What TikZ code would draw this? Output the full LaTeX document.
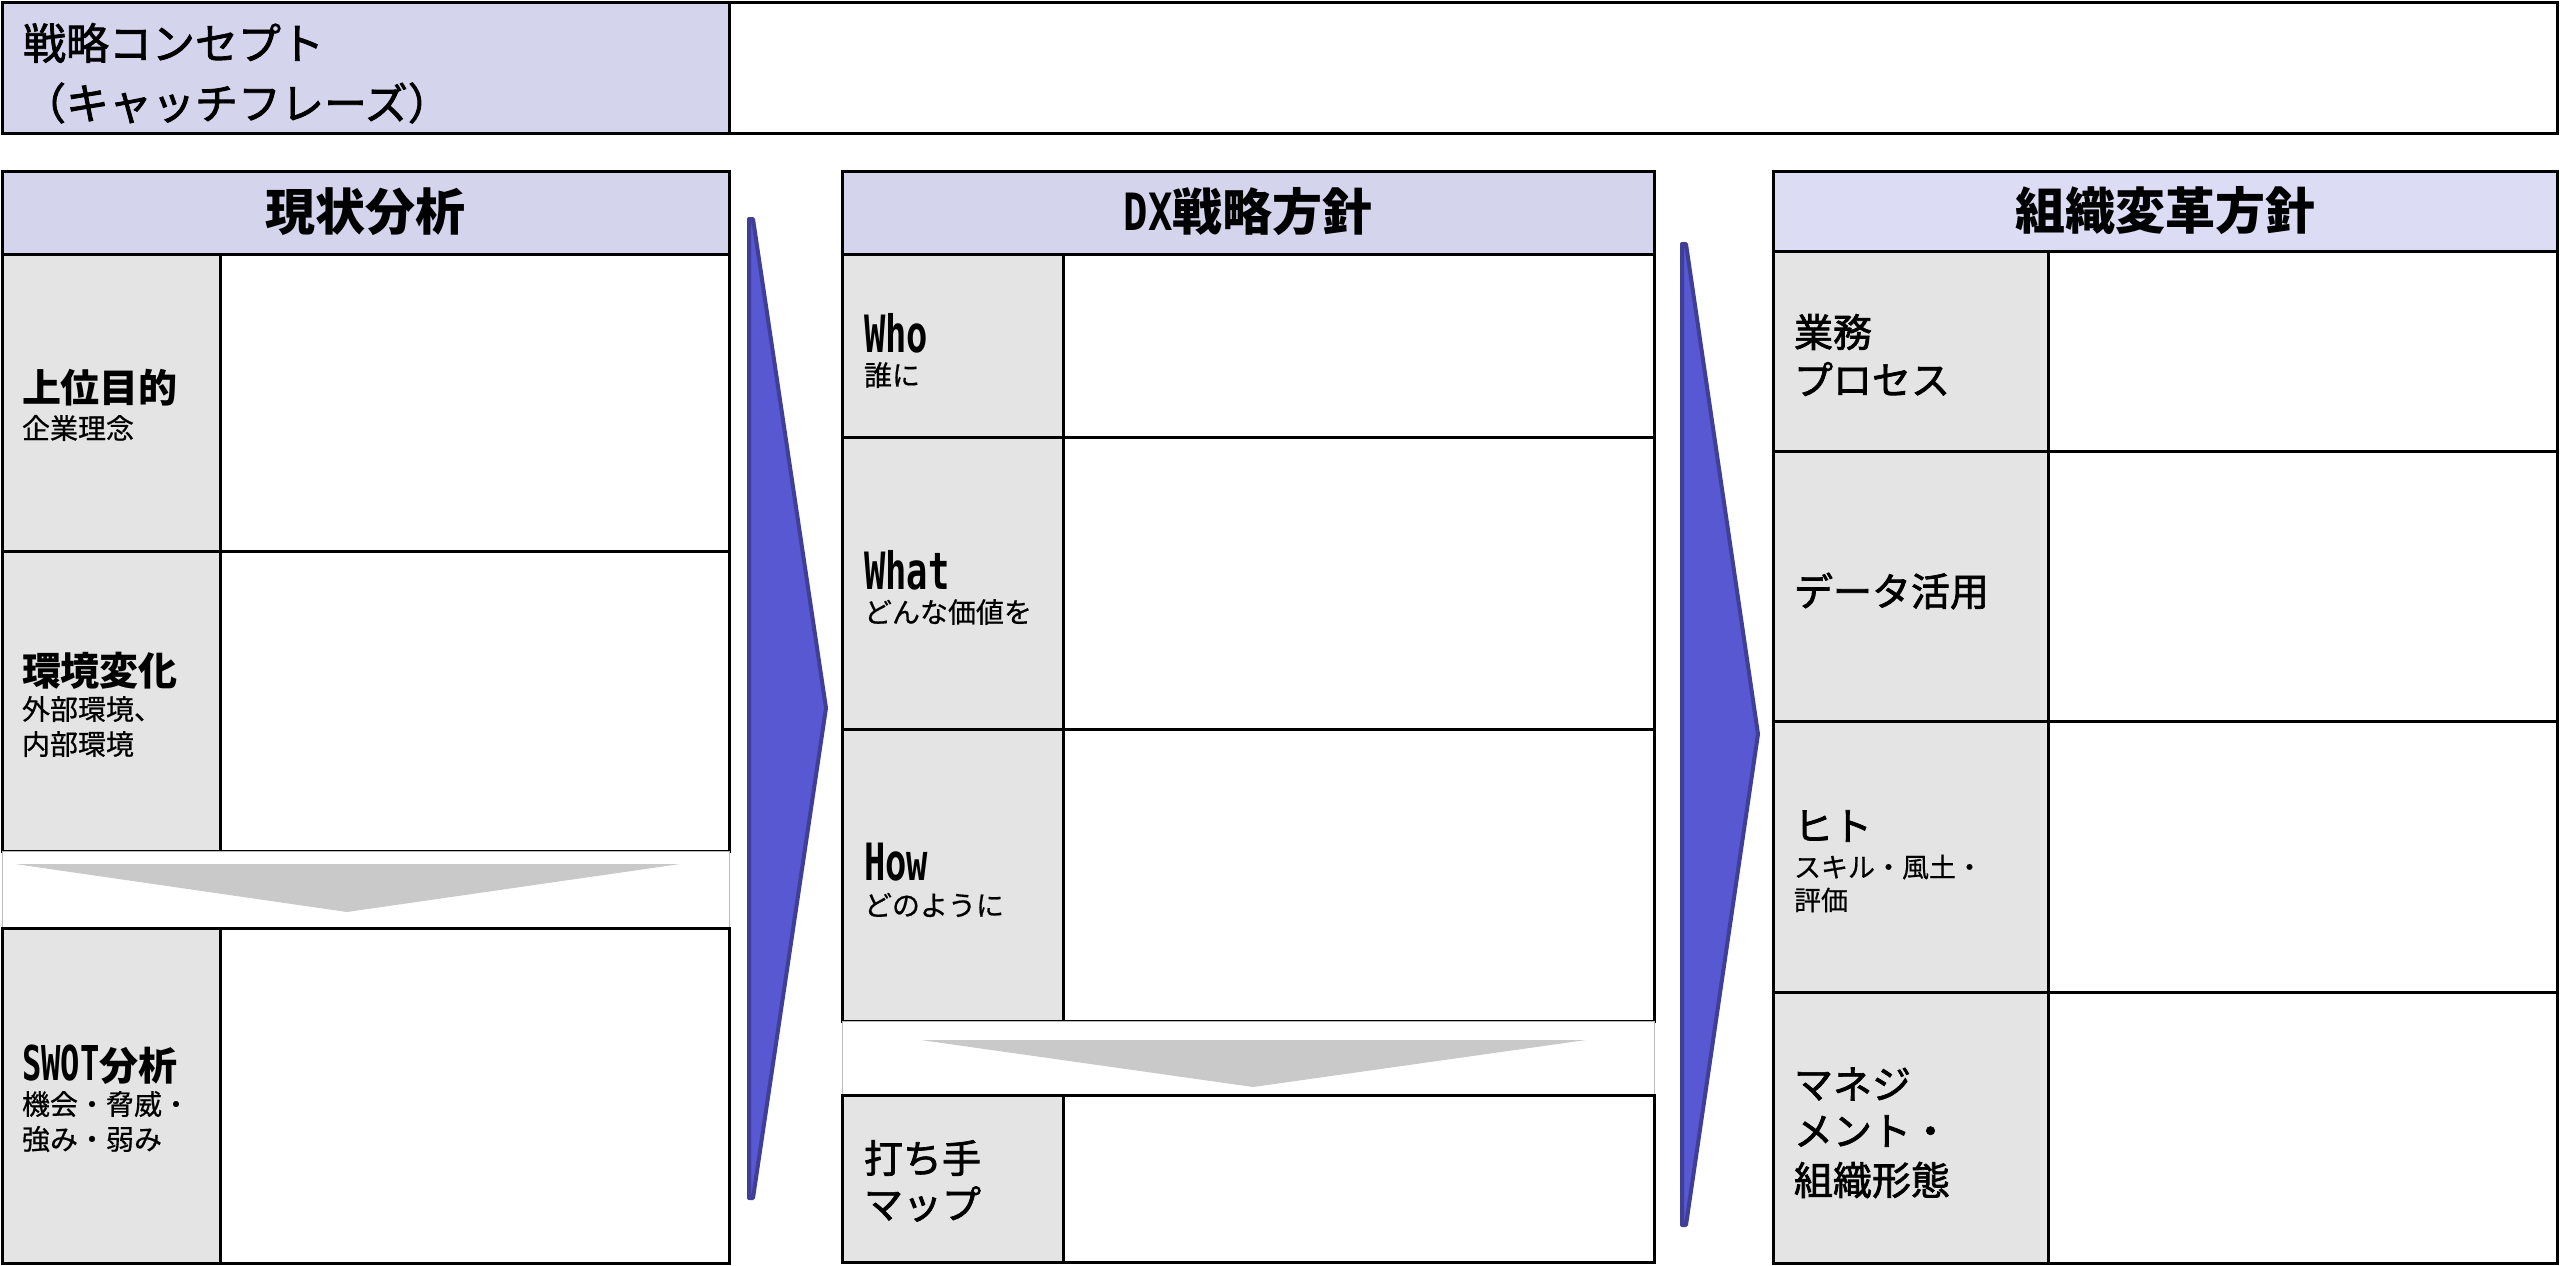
\documentclass[tikz,border=0pt]{standalone}
\usepackage{graphicx}
\usepackage{fontspec}
\setmainfont{Noto Sans CJK JP}
\newfontfamily\jpmed[FakeBold=1.8]{Noto Sans CJK JP}
\newfontfamily\jpsub[FakeBold=0.6]{Noto Sans CJK JP}
\newfontfamily\lat{DejaVu Sans Mono}
\definecolor{lav}{HTML}{D4D4EC}
\definecolor{lavlt}{HTML}{DCDCF4}
\definecolor{cellgray}{HTML}{E4E4E4}
\definecolor{arrgray}{HTML}{C9C9C9}
\definecolor{bluefill}{HTML}{5858D2}
\definecolor{blueline}{HTML}{3F3F98}
\definecolor{gapline}{HTML}{BBBBBB}
\newcommand\hdf{\fontsize{25}{30}\selectfont\bfseries}
\newcommand\lbf{\fontsize{19.5}{24}\selectfont\bfseries}
\newcommand\lmf{\fontsize{19.5}{24}\selectfont\jpmed}
\newcommand\sbf{\fontsize{14}{17}\selectfont\jpsub}
\newcommand\topf{\fontsize{21.5}{26}\selectfont\jpmed}
\newcommand\latw[2]{\scalebox{#1}[1]{\lat\bfseries #2}}
\tikzset{
  txt/.style={anchor=west, inner sep=0pt, outer sep=0pt},
  hdtxt/.style={inner sep=0pt, outer sep=0pt},
  frame/.style={draw=black, line width=1.5pt},
  gapbox/.style={draw=gapline, line width=0.5pt, fill=white},
  grayarrow/.style={fill=arrgray, draw=none},
  bluearrow/.style={fill=bluefill, draw=blueline, line width=2pt, line join=round}
}
\begin{document}
\begin{tikzpicture}[x=0.5pt,y=-0.5pt]
\useasboundingbox (0,0) rectangle (2560,1265);
\fill[white] (0,0) rectangle (2560,1265);

% ---------- top concept bar ----------
\path[frame, fill=lav] (2,2) rectangle (729,133);
\path[frame, fill=white] (729,2) rectangle (2557,133);
\node[txt] (t1) at (23,43) {\topf 戦略コンセプト};
\node[txt] (t2) at (23,103) {\topf （キャッチフレーズ）};

% ---------- left panel ----------
\path[frame, fill=lav] (2,171) rectangle (729,254);
\path[frame, fill=cellgray] (2,254) rectangle (220,551);
\path[frame, fill=white] (220,254) rectangle (729,551);
\path[frame, fill=cellgray] (2,551) rectangle (220,851);
\path[frame, fill=white] (220,551) rectangle (729,851);
\path[gapbox] (2,851) rectangle (729,928);
\path[grayarrow] (15,864) -- (680,864) -- (347,912) -- cycle;
\path[frame, fill=cellgray] (2,928) rectangle (220,1263);
\path[frame, fill=white] (220,928) rectangle (729,1263);

\node[hdtxt] (h1) at (365,212) {\hdf 現状分析};
\node[txt] (l1) at (22,388) {\lbf 上位目的};
\node[txt] (l1s) at (22,428) {\sbf 企業理念};
\node[txt] (l2) at (22,671) {\lbf 環境変化};
\node[txt] (l2s) at (22,709) {\sbf 外部環境、};
\node[txt] (l2t) at (22,744) {\sbf 内部環境};
\node[txt] (l3) at (22,1065) {\fontsize{24}{28}\selectfont\latw{0.67}{SWOT}\lbf 分析};
\node[txt] (l3s) at (22,1104) {\sbf 機会・脅威・};
\node[txt] (l3t) at (22,1139) {\sbf 強み・弱み};

% ---------- blue arrow 1 ----------
\path[bluearrow] (749,219) -- (753,219) -- (826,708) -- (753,1198) -- (749,1198) -- cycle;

% ---------- middle panel ----------
\path[frame, fill=lav] (842,171) rectangle (1654,254);
\path[frame, fill=cellgray] (842,254) rectangle (1063,437);
\path[frame, fill=white] (1063,254) rectangle (1654,437);
\path[frame, fill=cellgray] (842,437) rectangle (1063,729);
\path[frame, fill=white] (1063,437) rectangle (1654,729);
\path[frame, fill=cellgray] (842,729) rectangle (1063,1021);
\path[frame, fill=white] (1063,729) rectangle (1654,1021);
\path[gapbox] (842,1021) rectangle (1654,1095);
\path[grayarrow] (921,1040) -- (1586,1040) -- (1253,1087) -- cycle;
\path[frame, fill=cellgray] (842,1095) rectangle (1063,1262);
\path[frame, fill=white] (1063,1095) rectangle (1654,1262);

\node[hdtxt] (h2) at (1248,212) {\fontsize{25.7}{30}\selectfont\latw{0.79}{DX}\hdf 戦略方針};
\node[txt] (m1) at (864,333) {\fontsize{25.7}{30}\selectfont\latw{0.69}{Who}};
\node[txt] (m1s) at (864,375) {\sbf 誰に};
\node[txt] (m2) at (864,570) {\fontsize{25.7}{30}\selectfont\latw{0.69}{What}};
\node[txt] (m2s) at (864,612) {\sbf どんな価値を};
\node[txt] (m3) at (864,862) {\fontsize{25.7}{30}\selectfont\latw{0.69}{How}};
\node[txt] (m3s) at (864,905) {\sbf どのように};
\node[txt] (m4) at (864,1158) {\lmf 打ち手};
\node[txt] (m4s) at (864,1204) {\lmf マップ};

% ---------- blue arrow 2 ----------
\path[bluearrow] (1682,244) -- (1686,244) -- (1758,734) -- (1686,1225) -- (1682,1225) -- cycle;

% ---------- right panel ----------
\path[frame, fill=lavlt] (1773,171) rectangle (2557,251);
\path[frame, fill=cellgray] (1773,251) rectangle (2048,451);
\path[frame, fill=white] (2048,251) rectangle (2557,451);
\path[frame, fill=cellgray] (1773,451) rectangle (2048,721);
\path[frame, fill=white] (2048,451) rectangle (2557,721);
\path[frame, fill=cellgray] (1773,721) rectangle (2048,992);
\path[frame, fill=white] (2048,721) rectangle (2557,992);
\path[frame, fill=cellgray] (1773,992) rectangle (2048,1263);
\path[frame, fill=white] (2048,992) rectangle (2557,1263);

\node[hdtxt] (h3) at (2165,211) {\hdf 組織変革方針};
\node[txt] (r1) at (1794,332) {\lmf 業務};
\node[txt] (r1s) at (1794,379) {\lmf プロセス};
\node[txt] (r2) at (1794,591) {\lmf データ活用};
\node[txt] (r3) at (1794,826) {\lmf ヒト};
\node[txt] (r3s) at (1794,867) {\fontsize{13.5}{16}\selectfont\jpsub スキル・風土・};
\node[txt] (r3t) at (1794,900) {\fontsize{13.5}{16}\selectfont\jpsub 評価};
\node[txt] (r4) at (1794,1084) {\lmf マネジ};
\node[txt] (r4s) at (1794,1131) {\lmf メント・};
\node[txt] (r4t) at (1794,1180) {\lmf 組織形態};
\end{tikzpicture}
\end{document}
